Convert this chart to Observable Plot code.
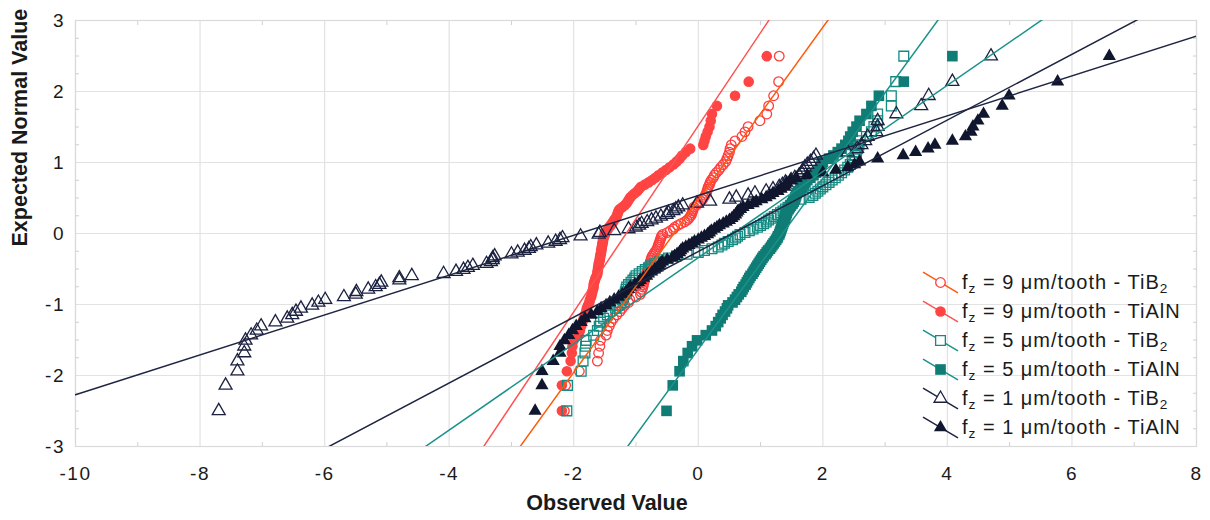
<!DOCTYPE html>
<html><head><meta charset="utf-8">
<script src="https://cdn.jsdelivr.net/npm/d3@7"></script>
<script src="https://cdn.jsdelivr.net/npm/@observablehq/plot@0.6"></script>
<style>
body{margin:0;background:#fff;font-family:"Liberation Sans",Arial,sans-serif;}
#wrap{position:relative;width:1210px;height:520px;}
#legend{position:absolute;left:921px;top:268px;}
.row{height:29px;display:flex;align-items:center;}
.row svg{width:40px;height:29px;flex:none;}
.row span{font-size:20px;letter-spacing:1px;color:#1a1a1a;white-space:nowrap;margin-left:1px;}
sub{font-size:0.68em;vertical-align:-0.32em;line-height:0;}
g[aria-label$="tick label"] text{letter-spacing:1.5px;}
</style></head><body><div id="wrap"></div>
<script>
// Expected normal values (rank scores, n = 100), shared by all series
const expectedNormal = [
 -2.498,-2.139,-1.940,-1.797,-1.683,-1.588,-1.505,-1.432,-1.366,-1.305,
 -1.248,-1.195,-1.146,-1.099,-1.054,-1.012,-0.971,-0.932,-0.894,-0.857,
 -0.821,-0.786,-0.753,-0.720,-0.688,-0.657,-0.626,-0.596,-0.567,-0.537,
 -0.509,-0.481,-0.453,-0.425,-0.398,-0.371,-0.344,-0.318,-0.292,-0.266,
 -0.240,-0.214,-0.189,-0.163,-0.138,-0.113,-0.088,-0.063,-0.038,-0.013,
  0.013, 0.038, 0.063, 0.088, 0.113, 0.138, 0.163, 0.189, 0.214, 0.240,
  0.266, 0.292, 0.318, 0.344, 0.371, 0.398, 0.425, 0.453, 0.481, 0.509,
  0.537, 0.567, 0.596, 0.626, 0.657, 0.688, 0.720, 0.753, 0.786, 0.821,
  0.857, 0.894, 0.932, 0.971, 1.012, 1.054, 1.099, 1.146, 1.195, 1.248,
  1.305, 1.366, 1.432, 1.505, 1.588, 1.683, 1.797, 1.940, 2.139, 2.498];

// Observed values, sorted, one per rank
const obs9TiB2 = [
 -2.15,-2.13,-1.91,-1.62,-1.60,-1.58,-1.57,-1.48,-1.46,-1.43,
 -1.40,-1.36,-1.31,-1.26,-1.22,-1.18,-1.12,-1.10,-1.00,-0.93,
 -0.92,-0.90,-0.89,-0.88,-0.87,-0.86,-0.85,-0.84,-0.83,-0.82,
 -0.81,-0.80,-0.79,-0.78,-0.77,-0.76,-0.75,-0.74,-0.72,-0.70,
 -0.68,-0.66,-0.65,-0.64,-0.63,-0.62,-0.61,-0.60,-0.59,-0.57,
 -0.50,-0.45,-0.40,-0.38,-0.33,-0.28,-0.22,-0.18,-0.15,-0.13,
 -0.11,-0.10,-0.09,-0.08,-0.07,-0.03, 0.00, 0.04, 0.07, 0.09,
  0.11, 0.13, 0.14, 0.15, 0.16, 0.18, 0.19, 0.21, 0.24, 0.26,
  0.29, 0.33, 0.36, 0.40, 0.44, 0.46, 0.48, 0.50, 0.51, 0.53,
  0.59, 0.70, 0.75, 0.80, 0.99, 1.10, 1.13, 1.21, 1.29, 1.30];
const obs9TiAlN = [
 -2.19,-2.19,-2.11,-2.05,-2.03,-2.02,-2.00,-1.92,-1.90,-1.88,
 -1.86,-1.84,-1.82,-1.80,-1.79,-1.77,-1.75,-1.74,-1.72,-1.71,
 -1.70,-1.69,-1.68,-1.68,-1.67,-1.66,-1.65,-1.63,-1.62,-1.62,
 -1.61,-1.61,-1.60,-1.60,-1.59,-1.58,-1.58,-1.57,-1.57,-1.56,
 -1.56,-1.55,-1.55,-1.54,-1.54,-1.53,-1.53,-1.52,-1.51,-1.50,
 -1.50,-1.47,-1.45,-1.43,-1.41,-1.39,-1.37,-1.35,-1.33,-1.31,
 -1.30,-1.29,-1.28,-1.26,-1.22,-1.18,-1.15,-1.13,-1.11,-1.09,
 -1.06,-1.02,-0.98,-0.95,-0.92,-0.86,-0.80,-0.74,-0.69,-0.64,
 -0.58,-0.52,-0.46,-0.40,-0.35,-0.30,-0.26,-0.20,-0.13, 0.08,
  0.10, 0.12, 0.15, 0.18, 0.20, 0.22, 0.30, 0.59, 0.81, 1.10];
const obs5TiB2 = [
 -2.11,-2.10,-1.88,-1.85,-1.82,-1.81,-1.80,-1.68,-1.62,-1.59,
 -1.57,-1.52,-1.46,-1.42,-1.33,-1.29,-1.25,-1.22,-1.20,-1.18,
 -1.17,-1.16,-1.15,-1.12,-1.08,-1.05,-1.02,-1.00,-0.95,-0.90,
 -0.85,-0.80,-0.76,-0.70,-0.62,-0.56,-0.48,-0.35,-0.18, 0.00,
  0.10, 0.22, 0.32, 0.38, 0.42, 0.48, 0.55, 0.60, 0.63, 0.67,
  0.75, 0.82, 0.88, 0.95, 1.00, 1.05, 1.09, 1.13, 1.17, 1.22,
  1.27, 1.32, 1.36, 1.40, 1.44, 1.48, 1.51, 1.53, 1.65, 1.78,
  1.84, 1.88, 1.92, 1.96, 2.00, 2.05, 2.10, 2.15, 2.20, 2.25,
  2.30, 2.35, 2.40, 2.44, 2.47, 2.50, 2.52, 2.54, 2.56, 2.58,
  2.60, 2.70, 2.78, 2.82, 2.88, 2.88, 3.10, 3.10, 3.17, 3.30];
const obs5TiAlN = [
 -0.51,-0.41,-0.30,-0.24,-0.17,-0.10,-0.02, 0.12, 0.22, 0.28,
  0.32, 0.36, 0.39, 0.43, 0.46, 0.48, 0.55, 0.59, 0.62, 0.65,
  0.69, 0.71, 0.73, 0.76, 0.78, 0.80, 0.82, 0.84, 0.87, 0.89,
  0.91, 0.93, 0.95, 0.97, 0.99, 1.01, 1.03, 1.05, 1.08, 1.10,
  1.12, 1.15, 1.17, 1.19, 1.21, 1.23, 1.25, 1.27, 1.28, 1.30,
  1.31, 1.32, 1.33, 1.34, 1.35, 1.36, 1.37, 1.38, 1.39, 1.40,
  1.41, 1.42, 1.43, 1.45, 1.47, 1.49, 1.51, 1.53, 1.55, 1.56,
  1.57, 1.58, 1.60, 1.64, 1.67, 1.70, 1.72, 1.75, 1.80, 1.85,
  1.89, 1.93, 1.96, 1.98, 2.00, 2.10, 2.17, 2.24, 2.30, 2.36,
  2.41, 2.44, 2.48, 2.54, 2.59, 2.70, 2.78, 2.90, 3.30, 4.08];
const obs1TiB2 = [
 -7.70,-7.59,-7.40,-7.40,-7.29,-7.29,-7.27,-7.18,-7.09,-7.02,
 -6.79,-6.60,-6.52,-6.46,-6.38,-6.20,-6.10,-5.99,-5.69,-5.50,
 -5.49,-5.30,-5.18,-5.12,-5.09,-4.80,-4.80,-4.60,-4.09,-3.89,
 -3.77,-3.70,-3.62,-3.40,-3.33,-3.30,-3.30,-3.27,-3.00,-2.90,
 -2.79,-2.72,-2.69,-2.60,-2.41,-2.29,-2.22,-2.18,-1.89,-1.60,
 -1.58,-1.35,-1.12,-1.00,-0.95,-0.91,-0.82,-0.75,-0.68,-0.60,
 -0.51,-0.48,-0.40,-0.36,-0.32,-0.25,-0.02, 0.19, 0.50, 0.61,
  0.80, 0.91, 1.09, 1.20, 1.30, 1.35, 1.40, 1.49, 1.55, 1.62,
  1.66, 1.68, 1.71, 1.75, 1.80, 1.85, 1.89, 2.40, 2.55, 2.62,
  2.68, 2.72, 2.86, 2.88, 2.88, 3.18, 3.58, 3.70, 4.08, 4.70];
const obs1TiAlN = [
 -2.62,-2.51,-2.51,-2.33,-2.22,-2.22,-2.15,-2.08,-2.02,-1.96,
 -1.88,-1.82,-1.72,-1.62,-1.56,-1.48,-1.42,-1.35,-1.28,-1.22,
 -1.16,-1.12,-1.09,-1.02,-0.96,-0.93,-0.88,-0.83,-0.80,-0.75,
 -0.70,-0.66,-0.63,-0.61,-0.58,-0.50,-0.42,-0.38,-0.34,-0.30,
 -0.28,-0.25,-0.20,-0.15,-0.10,-0.06, 0.00, 0.05, 0.10, 0.15,
  0.18, 0.21, 0.26, 0.30, 0.34, 0.40, 0.45, 0.50, 0.54, 0.57,
  0.60, 0.62, 0.64, 0.68, 0.72, 0.80, 0.88, 0.93, 1.02, 1.09,
  1.15, 1.20, 1.28, 1.33, 1.39, 1.40, 1.42, 1.48, 1.57, 1.75,
  2.00, 2.21, 2.40, 2.51, 2.59, 2.88, 3.29, 3.49, 3.69, 3.80,
  4.08, 4.29, 4.38, 4.41, 4.49, 4.58, 4.88, 4.99, 5.77, 6.60];

// Fitted normal lines: expected = slope * observed + intercept
const seriesKeys   = ["9TiB2", "9TiAlN", "5TiB2", "5TiAlN", "1TiB2", "1TiAlN"];
const feedRates    = ["9", "9", "5", "5", "1", "1"];
const coatings     = ["TiB2", "TiAlN", "TiB2", "TiAlN", "TiB2", "TiAlN"];
const fitSlope     = [1.215, 1.311, 0.607, 1.205, 0.2806, 0.463];
const fitIntercept = [0.475, 1.518, -0.341, -1.632, 0.536, -0.254];
const observed     = [obs9TiB2, obs9TiAlN, obs5TiB2, obs5TiAlN, obs1TiB2, obs1TiAlN];

const xTicks = [-10, -8, -6, -4, -2, 0, 2, 4, 6, 8];
const yTicks = [-3, -2, -1, 0, 1, 2, 3];
const xMinor = [-9, -7, -5, -3, -1, 1, 3, 5, 7];
const yMinor = [-2.75,-2.5,-2.25,-1.75,-1.5,-1.25,-0.75,-0.5,-0.25,0.25,0.5,0.75,1.25,1.5,1.75,2.25,2.5,2.75];

// styles (separate from data)
const styles = [
  {symbol: "circle",   open: true,  color: "#ff3d3d", line: "#ff5a0a", r: 4.8},
  {symbol: "circle",   open: false, color: "#ff4444", line: "#ff5252", r: 5.3},
  {symbol: "square",   open: true,  color: "#138a82", line: "#1a928a", r: 5.5},
  {symbol: "square",   open: false, color: "#0f7d75", line: "#1a928a", r: 6.0},
  {symbol: "triangle", open: true,  color: "#1b2140", line: "#1e2542", r: 4.8},
  {symbol: "triangle", open: false, color: "#10162e", line: "#1e2542", r: 4.9}
];

const rows = [];
seriesKeys.forEach((k, s) => observed[s].forEach((v, i) => rows.push({s, x: v, y: expectedNormal[i]})));

const dotMarks = seriesKeys.map((k, s) => {
  const st = styles[s];
  return Plot.dot(rows.filter(d => d.s === s), {
    x: "x", y: "y", symbol: st.symbol, r: st.r,
    fill: st.open ? "none" : st.color,
    stroke: st.open ? st.color : "none",
    strokeWidth: st.open ? 1.3 : 0,
    clip: true
  });
});
const lineMarks = seriesKeys.map((k, s) => {
  const pts = [-10, 8].map(x => ({x, y: fitSlope[s] * x + fitIntercept[s]}));
  return Plot.line(pts, {x: "x", y: "y", stroke: styles[s].line, strokeWidth: 1.5, clip: true});
});

const fmt = d => String(d);
const chart = Plot.plot({
  width: 1210, height: 520,
  marginLeft: 75, marginRight: 14, marginTop: 20, marginBottom: 74,
  x: {domain: [-10, 8]},
  y: {domain: [-3, 3]},
  style: {fontFamily: "'Liberation Sans', Arial, sans-serif", fontSize: "19px", color: "#1a1a1a", background: "#fff", overflow: "visible"},
  marks: [
    Plot.gridX(xTicks, {stroke: "#e2e2e2", strokeOpacity: 1, strokeWidth: 1.2}),
    Plot.gridY(yTicks, {stroke: "#e2e2e2", strokeOpacity: 1, strokeWidth: 1.2}),
    Plot.frame({stroke: "#dadada", strokeWidth: 1.2}),
    Plot.axisX(xMinor, {anchor: "bottom", tickSize: -4, text: null, stroke: "#d0d0d0", label: null}),
    Plot.axisX(xMinor, {anchor: "top", tickSize: -4, text: null, stroke: "#d0d0d0", label: null}),
    Plot.axisY(yMinor, {anchor: "left", tickSize: -4, text: null, stroke: "#d0d0d0", label: null}),
    Plot.axisY(yMinor, {anchor: "right", tickSize: -4, text: null, stroke: "#d0d0d0", label: null}),
    ...dotMarks,
    ...lineMarks,
    Plot.axisX(xTicks, {anchor: "bottom", tickSize: 0, tickPadding: 20, tickFormat: fmt, label: null, fill: "#1a1a1a", fontSize: 19}),
    Plot.axisY(yTicks, {anchor: "left", tickSize: 0, tickPadding: 10.5, tickFormat: fmt, label: null, fill: "#1a1a1a", fontSize: 19}),
    Plot.text(["Observed Value"], {frameAnchor: "bottom", dx: -29, dy: 57, fontWeight: "bold", fontSize: 21.5, lineAnchor: "middle", fill: "#1a1a1a"}),
    Plot.text(["Expected Normal Value"], {frameAnchor: "left", dx: -55, dy: 13, rotate: -90, fontWeight: "bold", fontSize: 21.5, lineAnchor: "middle", fill: "#1a1a1a"})
  ]
});

const wrap = document.getElementById("wrap");
wrap.appendChild(chart);

// Legend
const legend = document.createElement("div");
legend.id = "legend";
const symbolTypes = {circle: d3.symbolCircle, square: d3.symbolSquare, triangle: d3.symbolTriangle};
seriesKeys.forEach((k, s) => {
  const st = styles[s];
  const row = document.createElement("div");
  row.className = "row";
  const path = d3.symbol().type(symbolTypes[st.symbol]).size(Math.PI * st.r * st.r)();
  const mk = st.open
    ? `<path d="${path}" transform="translate(19.5,14.5)" fill="#fff" stroke="${st.color}" stroke-width="1.3"/>`
    : `<path d="${path}" transform="translate(19.5,14.5)" fill="${st.color}"/>`;
  row.innerHTML =
    `<svg viewBox="0 0 40 29"><line x1="2" y1="4.2" x2="37" y2="24.8" stroke="${st.line}" stroke-width="1.5"/>${mk}</svg>` +
    `<span>f<sub>z</sub> = ${feedRates[s]} μm/tooth - ${coatings[s] === "TiB2" ? "TiB<sub>2</sub>" : "TiAlN"}</span>`;
  legend.appendChild(row);
});
wrap.appendChild(legend);
</script></body></html>
